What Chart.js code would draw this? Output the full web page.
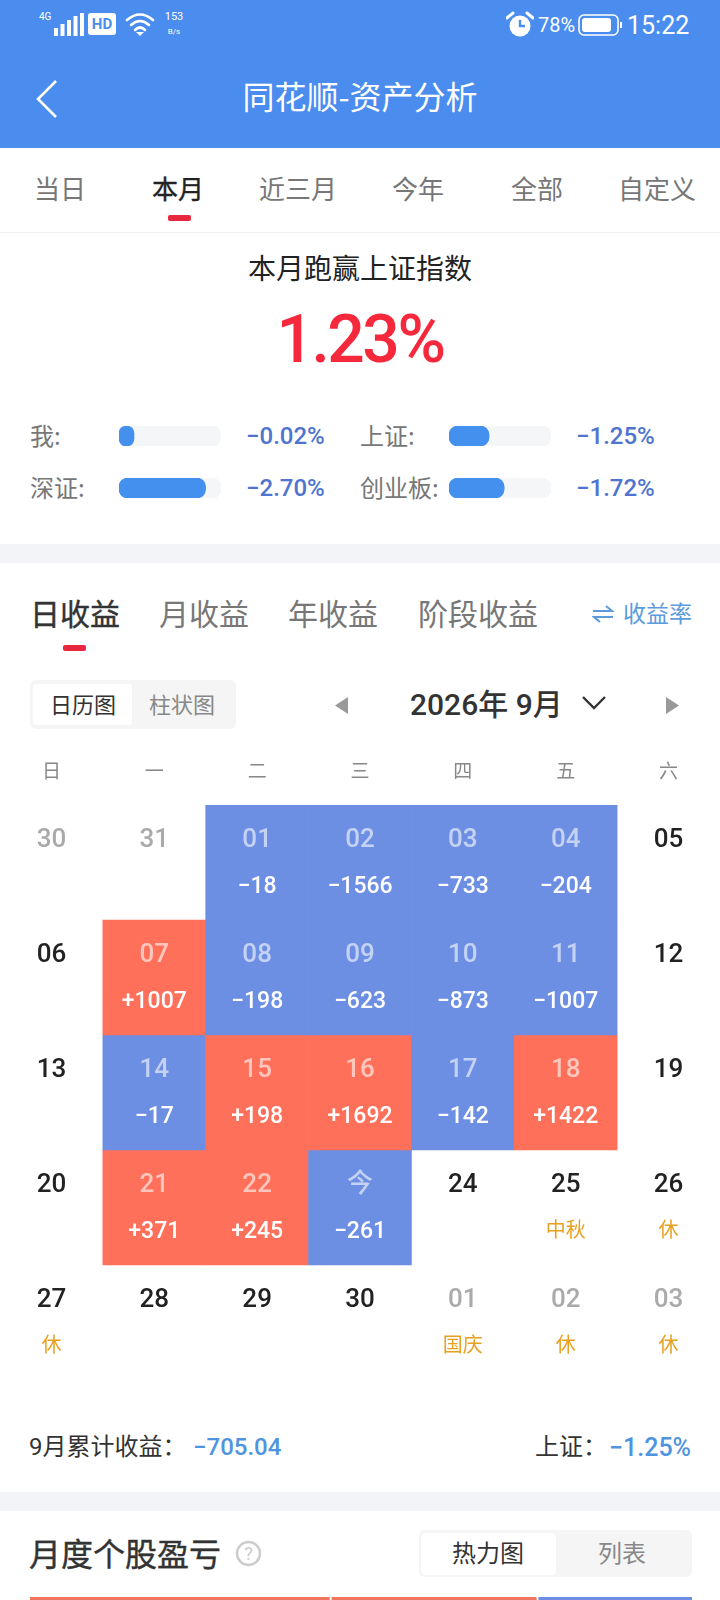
<!DOCTYPE html>
<html>
<head>
<meta charset="utf-8">
<script src="https://cdn.jsdelivr.net/npm/chart.js@4"></script>
<style>
html,body{margin:0;padding:0;background:#fff;}
body{width:720px;height:1600px;position:relative;overflow:hidden;font-family:"Noto Sans CJK SC","Noto Sans",sans-serif;}
.box{position:absolute;}
.c,.l,.r{position:absolute;white-space:nowrap;line-height:1;}
.c{transform:translate(-50%,-50%);}
.l{transform:translateY(-50%);}
.r{transform:translate(-100%,-50%);}
.num{font-family:Roboto,"Noto Sans CJK SC",sans-serif;}
.semi{-webkit-text-stroke:0.4px currentColor;}
canvas{position:absolute;display:block;}
</style>
</head>
<body>
<!-- header -->
<div class="box" style="left:0;top:0;width:720px;height:148px;background:#4A8DEE"></div>
<div class="l num" style="left:39px;top:17px;font-size:10px;color:#fff">4G</div>
<svg class="box" style="left:54px;top:13px" width="30" height="24"><g fill="#fff"><rect x="0" y="15" width="4" height="8"/><rect x="6.5" y="11" width="4" height="12"/><rect x="13" y="7" width="4" height="16"/><rect x="19.5" y="3" width="4" height="20"/><rect x="26" y="0" width="4" height="23"/></g></svg>
<div class="box" style="left:88px;top:13px;width:28px;height:22px;background:#fff;border-radius:3px"></div>
<div class="c num" style="left:102px;top:24px;font-size:15px;font-weight:700;color:#4A8DEE">HD</div>
<svg class="box" style="left:125px;top:12px" width="30" height="26"><g fill="none" stroke="#fff" stroke-width="2.6" stroke-linecap="round"><path d="M2 8 Q15 -3 28 8"/><path d="M6 13 Q15 5 24 13"/><path d="M10 18 Q15 13 20 18"/></g><path d="M15 24 L11 20 H19 Z" fill="#fff"/></svg>
<div class="c num" style="left:174px;top:16px;font-size:11px;color:#fff">153</div>
<div class="c num" style="left:174px;top:32px;font-size:8px;color:#fff">B/s</div>
<svg class="box" style="left:506px;top:11px" width="28" height="27"><circle cx="14" cy="15" r="10.5" fill="#fff"/><path d="M14 9 V15 H19" fill="none" stroke="#4A8DEE" stroke-width="2.4"/><path d="M1 7 L7 2 M27 7 L21 2" stroke="#fff" stroke-width="3" stroke-linecap="round"/></svg>
<div class="l num" style="left:538px;top:25px;font-size:20px;color:#fff">78%</div>
<svg class="box" style="left:578px;top:14px" width="45" height="22"><rect x="1" y="1" width="39" height="20" rx="5" fill="none" stroke="#fff" stroke-width="1.6"/><rect x="4" y="4" width="29" height="14" rx="3" fill="#fff"/><rect x="42" y="8" width="2" height="6" fill="#fff"/></svg>
<div class="l num" style="left:627px;top:25px;font-size:25px;color:#fff">15:22</div>
<svg class="box" style="left:34px;top:78px" width="26" height="42"><path d="M22 3 L4 21 L22 39" fill="none" stroke="#fff" stroke-width="2.6"/></svg>
<div class="c" style="left:360px;top:95px;font-size:32px;color:#fff">同花顺-资产分析</div>

<!-- range tabs -->
<div class="c" style="left:60px;top:188px;font-size:26px;color:#777">当日</div>
<div class="c semi" style="left:178px;top:188px;font-size:26px;color:#222">本月</div>
<div class="c" style="left:298px;top:188px;font-size:26px;color:#777">近三月</div>
<div class="c" style="left:418px;top:188px;font-size:26px;color:#777">今年</div>
<div class="c" style="left:537px;top:188px;font-size:26px;color:#777">全部</div>
<div class="c" style="left:657px;top:188px;font-size:26px;color:#777">自定义</div>
<div class="box" style="left:168px;top:215px;width:23px;height:6px;border-radius:2px;background:#E8283C"></div>
<div class="box" style="left:0;top:232px;width:720px;height:1px;background:#F2F2F2"></div>

<!-- summary -->
<div class="c" style="left:360px;top:267px;font-size:28px;color:#222">本月跑赢上证指数</div>
<div class="c num" style="left:360px;top:340px;font-size:66px;font-weight:500;letter-spacing:-2.5px;color:#F5283C">1.23%</div>
<div id="indexRows"></div>
<div class="box" style="left:0;top:544px;width:720px;height:19px;background:#F2F4F7"></div>

<!-- profit tabs -->
<div class="l semi" style="left:30px;top:612px;font-size:30px;color:#333">日收益</div>
<div class="l" style="left:159px;top:612px;font-size:30px;color:#777">月收益</div>
<div class="l" style="left:288px;top:612px;font-size:30px;color:#777">年收益</div>
<div class="l" style="left:418px;top:612px;font-size:30px;color:#777">阶段收益</div>
<svg class="box" style="left:592px;top:604px" width="22" height="20"><g fill="none" stroke="#5C9BDC" stroke-width="2"><path d="M1 7 H20 L14 2"/><path d="M21 13 H2 L8 18"/></g></svg>
<div class="l" style="left:623px;top:612px;font-size:23px;color:#5C9BDC">收益率</div>
<div class="box" style="left:63px;top:645px;width:23px;height:6px;border-radius:2px;background:#E8283C"></div>

<!-- calendar toolbar -->
<div class="box" style="left:30px;top:680px;width:206px;height:49px;border-radius:6px;background:#F5F5F5"></div>
<div class="box" style="left:33px;top:684px;width:99px;height:41px;border-radius:3px;background:#fff"></div>
<div class="c" style="left:83px;top:703px;font-size:22px;color:#333">日历图</div>
<div class="c" style="left:182px;top:703px;font-size:22px;color:#888">柱状图</div>
<svg class="box" style="left:335px;top:697px" width="14" height="17"><path d="M13 0 V17 L0 8.5 Z" fill="#999"/></svg>
<div class="l num" style="left:410px;top:705px;font-size:30px;font-weight:500;color:#333">2026年 9月</div>
<svg class="box" style="left:581px;top:695px" width="26" height="15"><path d="M2 2 L13 13 L24 2" fill="none" stroke="#333" stroke-width="2.4"/></svg>
<svg class="box" style="left:665px;top:697px" width="14" height="17"><path d="M1 0 V17 L14 8.5 Z" fill="#999"/></svg>

<!-- calendar chart -->
<canvas id="calendar" width="720" height="630" style="left:0;top:750px"></canvas>

<!-- totals -->
<div class="l num" style="left:29px;top:1447px;font-size:24px;color:#333">9月累计收益：</div>
<div class="l num" style="left:193px;top:1447px;font-size:24px;font-weight:500;color:#4F94DE">−705.04</div>
<div class="l num" style="left:535px;top:1447px;font-size:24px;color:#333">上证：</div>
<div class="r num" style="left:691px;top:1447px;font-size:25px;font-weight:500;color:#4F94DE">−1.25%</div>
<div class="box" style="left:0;top:1492px;width:720px;height:19px;background:#F2F4F7"></div>

<!-- monthly stocks -->
<div class="l semi" style="left:29px;top:1552px;font-size:32px;color:#333">月度个股盈亏</div>
<svg class="box" style="left:235px;top:1540px" width="27" height="27"><circle cx="13.5" cy="13.5" r="11.5" fill="none" stroke="#CCC" stroke-width="2.4"/><text x="13.5" y="20" text-anchor="middle" font-size="18" fill="#CCC" font-family="Roboto">?</text></svg>
<div class="box" style="left:419px;top:1530px;width:273px;height:47px;border-radius:6px;background:#F5F5F5"></div>
<div class="box" style="left:421px;top:1533px;width:135px;height:42px;border-radius:4px;background:#fff"></div>
<div class="c" style="left:488px;top:1552px;font-size:24px;color:#333">热力图</div>
<div class="c" style="left:622px;top:1552px;font-size:24px;color:#888">列表</div>
<canvas id="stockStrip" width="662" height="3" style="left:30px;top:1597px"></canvas>

<script>
let weekdays=['日','一','二','三','四','五','六']

// calendar, one list per week
let week1Dates=['30','31','01','02','03','04','05']
let week2Dates=['06','07','08','09','10','11','12']
let week3Dates=['13','14','15','16','17','18','19']
let week4Dates=['20','21','22','今','24','25','26']
let week5Dates=['27','28','29','30','01','02','03']

let week1Profit=[null,null,-18,-1566,-733,-204,null]
let week2Profit=[null,1007,-198,-623,-873,-1007,null]
let week3Profit=[null,-17,198,1692,-142,1422,null]
let week4Profit=[null,371,245,-261,null,null,null]
let week5Profit=[null,null,null,null,null,null,null]

let week1Notes=['','','','','','','']
let week2Notes=['','','','','','','']
let week3Notes=['','','','','','','']
let week4Notes=['','','','','','中秋','休']
let week5Notes=['休','','','','国庆','休','休']

// cells not in september
let week1Grey=[true,true,false,false,false,false,false]
let week5Grey=[false,false,false,false,true,true,true]

let weekDates=[week1Dates,week2Dates,week3Dates,week4Dates,week5Dates]
let weekProfit=[week1Profit,week2Profit,week3Profit,week4Profit,week5Profit]
let weekNotes=[week1Notes,week2Notes,week3Notes,week4Notes,week5Notes]

// index comparison
let indexNames=['我','上证','深证','创业板']
let indexReturns=[-0.02,-1.25,-2.70,-1.72]
let indexMax=3.18

// top edge of the stock heatmap below the fold
let stockSizes=[300,206,153]
let stockColors=['#F0755C','#F0755C','#6C8EE3']

const RED='#FF705A'
const BLUE='#6C8EE3'

Chart.defaults.animation=false
Chart.defaults.responsive=false
Chart.defaults.devicePixelRatio=1

function isGrey(row,col){
    if(row==0) return week1Grey[col]
    if(row==4) return week5Grey[col]
    return false
}

function fmtProfit(v){
    return v>0 ? '+'+v : '−'+Math.abs(v)
}

// dates and amounts on top of the cells
let cellText={
    id:'cellText',
    afterDatasetsDraw(chart){
        let ctx=chart.ctx, x=chart.scales.x, y=chart.scales.y
        ctx.save()
        ctx.textAlign='center'
        ctx.textBaseline='middle'
        weekDates.forEach((dates,row)=>{
            let top=y.getPixelForValue(row)
            dates.forEach((d,col)=>{
                let cx=x.getPixelForValue(col)
                let p=weekProfit[row][col]
                if(p!==null) ctx.fillStyle='rgba(255,255,255,0.6)'
                else if(isGrey(row,col)) ctx.fillStyle='#AAAAAA'
                else ctx.fillStyle='#222222'
                ctx.font='500 26px Roboto, "Noto Sans CJK SC"'
                ctx.fillText(d,cx,top+35)
                if(p!==null){
                    ctx.fillStyle='#FFFFFF'
                    ctx.font='500 23px Roboto, "Noto Sans CJK SC"'
                    ctx.fillText(fmtProfit(p),cx,top+82)
                }
                let note=weekNotes[row][col]
                if(note){
                    ctx.fillStyle='#E8A020'
                    ctx.font='20px "Noto Sans CJK SC"'
                    ctx.fillText(note,cx,top+79)
                }
            })
        })
        ctx.restore()
    }
}

function renderCalendar(){
    let datasets=weekProfit.map((week,row)=>({
        label:'week'+(row+1),
        data:week.map(v=>v===null ? null : [row,row+1]),
        backgroundColor:week.map(v=>v>0 ? RED : BLUE),
        borderWidth:0,
        grouped:false,
        categoryPercentage:1,
        barPercentage:1
    }))
    new Chart(document.getElementById('calendar'),{
        type:'bar',
        data:{labels:weekdays,datasets:datasets},
        plugins:[cellText],
        options:{
            layout:{padding:0},
            plugins:{legend:{display:false},tooltip:{enabled:false}},
            scales:{
                x:{
                    position:'top',
                    grid:{display:false},
                    border:{display:false},
                    ticks:{color:'#888888',padding:15,font:{size:19,family:'"Noto Sans CJK SC"'},maxRotation:0},
                    afterFit(s){s.height=55}
                },
                y:{display:false,reverse:true,min:0,max:5}
            }
        }
    })
}

function renderIndexRows(){
    let holder=document.getElementById('indexRows')
    let rowTop=[436,436,488,488]
    let labelX=[30,360,30,360]
    let trackX=[119,449,119,449]
    let valueX=[246,576,246,576]
    indexNames.forEach((name,i)=>{
        let label=document.createElement('div')
        label.className='l'
        label.style.cssText='left:'+labelX[i]+'px;top:'+(rowTop[i]-1)+'px;font-size:24px;color:#777'
        label.textContent=name+':'
        holder.appendChild(label)

        let value=document.createElement('div')
        value.className='l num'
        value.style.cssText='left:'+valueX[i]+'px;top:'+rowTop[i]+'px;font-size:24px;font-weight:500;color:#4F74D0'
        value.textContent='−'+Math.abs(indexReturns[i]).toFixed(2)+'%'
        holder.appendChild(value)

        let cv=document.createElement('canvas')
        cv.width=102
        cv.height=20
        cv.style.left=trackX[i]+'px'
        cv.style.top=(rowTop[i]-10)+'px'
        holder.appendChild(cv)
        new Chart(cv,{
            type:'bar',
            data:{
                labels:[name],
                datasets:[
                    {data:[Math.abs(indexReturns[i])],backgroundColor:'#4490EE',minBarLength:15},
                    {data:[indexMax],backgroundColor:'#F5F6F7'}
                ]
            },
            options:{
                indexAxis:'y',
                layout:{padding:0},
                datasets:{bar:{grouped:false,categoryPercentage:1,barPercentage:1,borderRadius:9,borderSkipped:false}},
                plugins:{legend:{display:false},tooltip:{enabled:false}},
                scales:{x:{display:false,min:0,max:indexMax},y:{display:false}}
            }
        })
    })
}

function renderStockStrip(){
    new Chart(document.getElementById('stockStrip'),{
        type:'bar',
        data:{
            labels:['stocks'],
            datasets:stockSizes.map((v,i)=>({
                data:[v],
                backgroundColor:stockColors[i],
                borderColor:'#FFFFFF',
                borderWidth:{right:i<2 ? 2 : 0}
            }))
        },
        options:{
            indexAxis:'y',
            layout:{padding:0},
            datasets:{bar:{categoryPercentage:1,barPercentage:1}},
            plugins:{legend:{display:false},tooltip:{enabled:false}},
            scales:{x:{display:false,stacked:true,min:0,max:659},y:{display:false,stacked:true}}
        }
    })
}

renderIndexRows()
renderCalendar()
renderStockStrip()
</script>
</body>
</html>
